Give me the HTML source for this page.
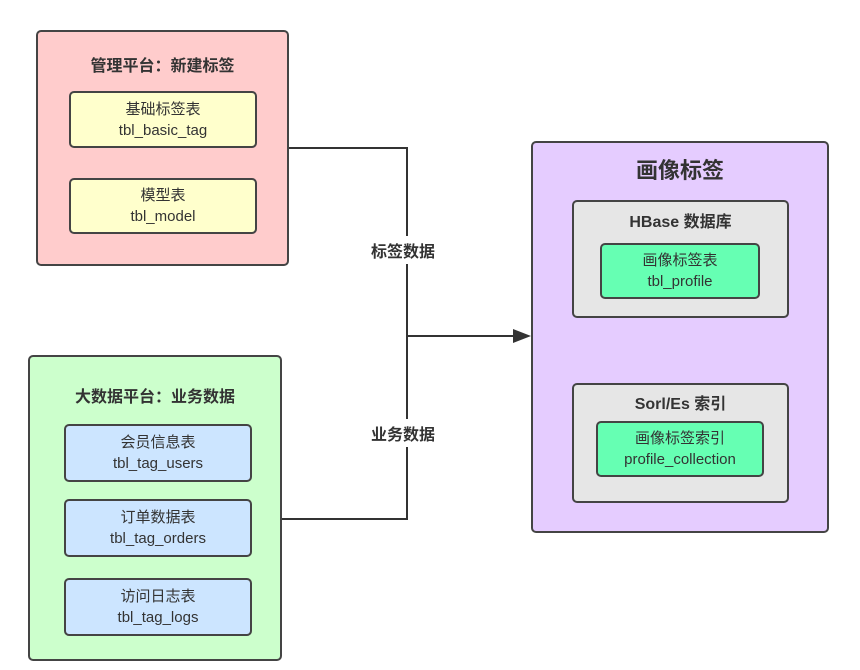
<!DOCTYPE html>
<html><head><meta charset="utf-8"><style>
body{margin:0;width:860px;height:670px;background:#fff;position:relative;overflow:hidden;font-family:"Liberation Sans","Noto Sans CJK SC",sans-serif;color:#333}
.b{position:absolute;box-sizing:border-box;border:2px solid #444;border-radius:5px}
.c{display:flex;flex-direction:column;align-items:center;justify-content:center;font-size:15px;line-height:21px;text-align:center}
.t{position:absolute;font-weight:bold;text-align:center}
.lab{position:absolute;background:#fff;font-size:16px;font-weight:bold;padding:2px 0}
</style></head><body>
<svg width="860" height="670" style="position:absolute;left:0;top:0">
<polyline points="288,148 407,148 407,519 281,519" fill="none" stroke="#333" stroke-width="2"/>
<line x1="407" y1="336" x2="516" y2="336" stroke="#333" stroke-width="2"/>
<polygon points="531,336 513,329 513,343" fill="#333"/>
<line x1="679" y1="317" x2="679" y2="368" stroke="#333" stroke-width="2"/>
<polygon points="679,382 672,365 686,365" fill="#333"/>
</svg>
<div class="lab" style="left:371px;top:236px">标签数据</div>
<div class="lab" style="left:371px;top:419px">业务数据</div>

<div class="b" style="left:36px;top:30px;width:253px;height:236px;background:#ffcccc"></div>
<div class="t" style="left:36px;top:52px;width:253px;font-size:16px">管理平台：新建标签</div>
<div class="b c" style="left:69px;top:91px;width:188px;height:57px;background:#ffffcc">基础标签表<br>tbl_basic_tag</div>
<div class="b c" style="left:69px;top:178px;width:188px;height:56px;background:#ffffcc">模型表<br>tbl_model</div>

<div class="b" style="left:28px;top:355px;width:254px;height:306px;background:#ccffcc"></div>
<div class="t" style="left:28px;top:383px;width:254px;font-size:16px">大数据平台：业务数据</div>
<div class="b c" style="left:64px;top:424px;width:188px;height:58px;background:#cce5ff">会员信息表<br>tbl_tag_users</div>
<div class="b c" style="left:64px;top:499px;width:188px;height:58px;background:#cce5ff">订单数据表<br>tbl_tag_orders</div>
<div class="b c" style="left:64px;top:578px;width:188px;height:58px;background:#cce5ff">访问日志表<br>tbl_tag_logs</div>

<div class="b" style="left:531px;top:141px;width:298px;height:392px;background:#e5ccff"></div>
<div class="t" style="left:531px;top:153px;width:298px;font-size:22px">画像标签</div>
<div class="b" style="left:572px;top:200px;width:217px;height:118px;background:#e6e6e6"></div>
<div class="t" style="left:572px;top:208px;width:217px;font-size:16px">HBase 数据库</div>
<div class="b c" style="left:600px;top:243px;width:160px;height:56px;background:#66ffb3">画像标签表<br>tbl_profile</div>
<div class="b" style="left:572px;top:383px;width:217px;height:120px;background:#e6e6e6"></div>
<div class="t" style="left:572px;top:390px;width:217px;font-size:16px">Sorl/Es 索引</div>
<div class="b c" style="left:596px;top:421px;width:168px;height:56px;background:#66ffb3">画像标签索引<br>profile_collection</div>
</body></html>
